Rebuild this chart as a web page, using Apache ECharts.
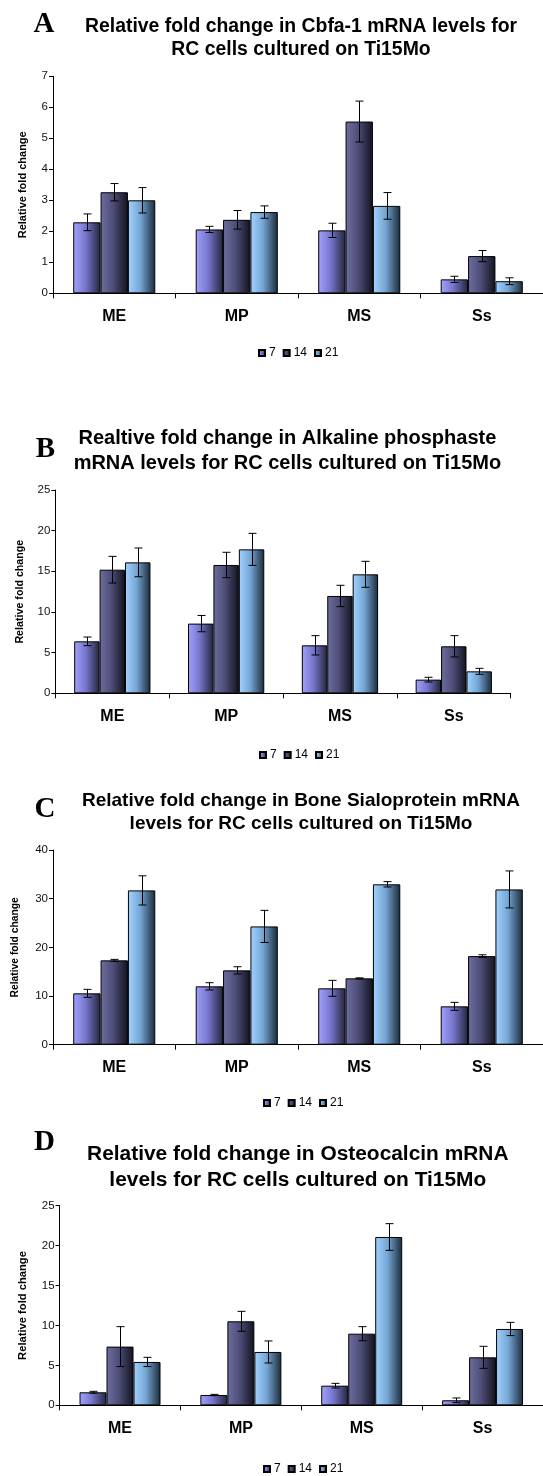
<!DOCTYPE html>
<html>
<head>
<meta charset="utf-8">
<script src="https://cdn.jsdelivr.net/npm/echarts@6/dist/echarts.min.js"></script>
<style>html,body{margin:0;padding:0;background:#fff}#c{width:543px;height:1476px}</style>
</head>
<body>
<div id="c"></div>
<script>
// ---- data ----
const categories = ['ME', 'MP', 'MS', 'Ss'];
const days = ['7', '14', '21'];
const yName = 'Relative fold change';

const titleA = 'Relative fold change in Cbfa-1 mRNA levels for\nRC cells cultured on Ti15Mo';
const titleB = 'Realtive fold change in Alkaline phosphaste\nmRNA levels for RC cells cultured on Ti15Mo';
const titleC = 'Relative fold change in Bone Sialoprotein mRNA\nlevels for RC cells cultured on Ti15Mo';
const titleD = 'Relative fold change in Osteocalcin mRNA\nlevels for RC cells cultured on Ti15Mo';

const a7 = [2.29, 2.06, 2.03, 0.45],  a7err = [0.27, 0.10, 0.23, 0.10];
const a14 = [3.26, 2.37, 5.54, 1.20], a14err = [0.28, 0.30, 0.66, 0.18];
const a21 = [3.00, 2.62, 2.82, 0.39], a21err = [0.41, 0.20, 0.43, 0.11];

const b7 = [6.39, 8.57, 5.90, 1.68],    b7err = [0.53, 1.00, 1.19, 0.29];
const b14 = [15.2, 15.78, 11.97, 5.78], b14err = [1.64, 1.56, 1.31, 1.31];
const b21 = [16.1, 17.7, 14.63, 2.70],  b21err = [1.77, 1.97, 1.60, 0.37];

const c7 = [10.55, 11.99, 11.58, 7.88], c7err = [0.82, 0.75, 1.64, 0.82];
const c14 = [17.33, 15.27, 13.63, 18.2], c14err = [0.20, 0.75, 0.10, 0.27];
const c21 = [31.7, 24.3, 32.95, 31.9],  c21err = [3.0, 3.3, 0.55, 3.8];

const d7 = [1.63, 1.29, 2.46, 0.63],    d7err = [0.12, 0.08, 0.29, 0.29];
const d14 = [7.35, 10.52, 8.97, 6.01],  d14err = [2.5, 1.25, 0.88, 1.38];
const d21 = [5.43, 6.68, 21.08, 9.56],  d21err = [0.58, 1.38, 1.67, 0.83];

const yMaxA = 7, yStepA = 1;
const yMaxB = 25, yStepB = 5;
const yMaxC = 40, yStepC = 10;
const yMaxD = 25, yStepD = 5;

// ---- styling / layout ----
const SANS = '"Liberation Sans", Arial, sans-serif';
const SERIF = '"Liberation Serif", "Times New Roman", serif';
const GAP = 0.33;

function grad(c0, c1, c2) {
  return new echarts.graphic.LinearGradient(0, 0, 1, 0, [
    {offset: 0, color: c0}, {offset: 0.45, color: c1}, {offset: 1, color: c2}
  ]);
}
const fills = [
  grad('#a2a2ff', '#7676cc', '#24243c'),
  grad('#6e6ea0', '#4e4e78', '#121220'),
  grad('#a2d2ff', '#76a6d4', '#1a2a3a')
];

const panels = [
  {vals: [a7, a14, a21], errs: [a7err, a14err, a21err], max: yMaxA, step: yStepA, title: titleA, letter: 'A',
   grid: {left: 53, top: 76.3, width: 490, height: 217}, tx: 301, ty: 15, tfs: 19.4, tlh: 23,
   lx: 44, ly: 25, legL: 258, legT: 347, nameGap: 25, nameFs: 11},
  {vals: [b7, b14, b21], errs: [b7err, b14err, b21err], max: yMaxB, step: yStepB, title: titleB, letter: 'B',
   grid: {left: 55.4, top: 490, width: 455.3, height: 203.3}, tx: 287.4, ty: 426, tfs: 20, tlh: 25,
   lx: 45.5, ly: 450, legL: 259, legT: 749, nameGap: 30, nameFs: 10.7},
  {vals: [c7, c14, c21], errs: [c7err, c14err, c21err], max: yMaxC, step: yStepC, title: titleC, letter: 'C',
   grid: {left: 53, top: 850, width: 490, height: 194.7}, tx: 301, ty: 788.5, tfs: 19, tlh: 23.7,
   lx: 45, ly: 810, legL: 263, legT: 1097, nameGap: 33, nameFs: 10.3},
  {vals: [d7, d14, d21], errs: [d7err, d14err, d21err], max: yMaxD, step: yStepD, title: titleD, letter: 'D',
   grid: {left: 59.6, top: 1205.7, width: 484.8, height: 199.6}, tx: 297.8, ty: 1140.5, tfs: 20.9, tlh: 26.7,
   lx: 44.5, ly: 1143, legL: 263, legT: 1463, nameGap: 31, nameFs: 11.2}
];

const option = {
  animation: false,
  backgroundColor: '#fff',
  title: [], legend: [], grid: [], xAxis: [], yAxis: [], series: [],
  graphic: []
};

panels.forEach((p, pi) => {
  option.grid.push(p.grid);
  option.title.push({
    text: p.title, left: p.tx, top: p.ty, textAlign: 'center', padding: 0,
    textStyle: {fontFamily: SANS, fontWeight: 'bold', fontSize: p.tfs, lineHeight: p.tlh, color: '#000'}
  });
  option.graphic.push({
    type: 'text', x: p.lx, y: p.ly,
    style: {text: p.letter, font: 'bold 29px ' + SERIF, fill: '#000', align: 'center', verticalAlign: 'middle'}
  });
  option.legend.push({
    data: days, left: p.legL, top: p.legT, padding: 0, icon: 'rect',
    itemWidth: 6, itemHeight: 6, itemGap: 7,
    textStyle: {fontFamily: SANS, fontSize: 12, color: '#000', padding: [0, 0, 0, -1]}
  });
  option.xAxis.push({
    type: 'category', gridIndex: pi, data: categories,
    axisLine: {lineStyle: {color: '#000', width: 1}},
    axisTick: {show: true, length: 5, alignWithLabel: false, lineStyle: {color: '#000'}},
    axisLabel: {fontFamily: SANS, fontWeight: 'bold', fontSize: 16, color: '#000', margin: 15}
  });
  option.yAxis.push({
    type: 'value', gridIndex: pi, min: 0, max: p.max, interval: p.step,
    name: yName, nameLocation: 'middle', nameGap: p.nameGap,
    nameTextStyle: {fontFamily: SANS, fontWeight: 'bold', fontSize: p.nameFs, color: '#000'},
    axisLine: {show: true, lineStyle: {color: '#000', width: 1}},
    axisTick: {show: true, length: 4, lineStyle: {color: '#000'}},
    axisLabel: {fontFamily: SANS, fontSize: 11.5, color: '#111', margin: 5},
    splitLine: {show: false}
  });
  p.vals.forEach((v, si) => {
    option.series.push({
      type: 'bar', name: days[si], xAxisIndex: pi, yAxisIndex: pi, data: v,
      barCategoryGap: (GAP * 100) + '%', barGap: '0%',
      itemStyle: {color: fills[si], borderColor: '#000', borderWidth: 1}
    });
  });
  const errData = [];
  p.vals.forEach((v, si) => v.forEach((val, ci) => errData.push([ci, si, val, p.errs[si][ci]])));
  option.series.push({
    type: 'custom', name: 'err' + pi, xAxisIndex: pi, yAxisIndex: pi, z: 10,
    encode: {x: 0, y: 2}, data: errData, silent: true,
    renderItem: function (params, api) {
      const ci = api.value(0), si = api.value(1), val = api.value(2), e = api.value(3);
      const bandW = api.size([1, 0])[0];
      const barW = bandW * (1 - GAP) / 3;
      const c = api.coord([ci, val]);
      const x = Math.round(c[0] + (si - 1) * barW) + 0.5;
      const yt = api.coord([ci, val + e])[1];
      const yb = api.coord([ci, Math.max(0, val - e)])[1];
      const cap = 4;
      const st = {stroke: '#000', lineWidth: 1};
      return {type: 'group', children: [
        {type: 'line', shape: {x1: x, y1: yt, x2: x, y2: yb}, style: st},
        {type: 'line', shape: {x1: x - cap, y1: yt, x2: x + cap, y2: yt}, style: st},
        {type: 'line', shape: {x1: x - cap, y1: yb, x2: x + cap, y2: yb}, style: st}
      ]};
    }
  });
});

const chart = echarts.init(document.getElementById('c'), null, {renderer: 'canvas', width: 543, height: 1476});
chart.setOption(option);
</script>
</body>
</html>
